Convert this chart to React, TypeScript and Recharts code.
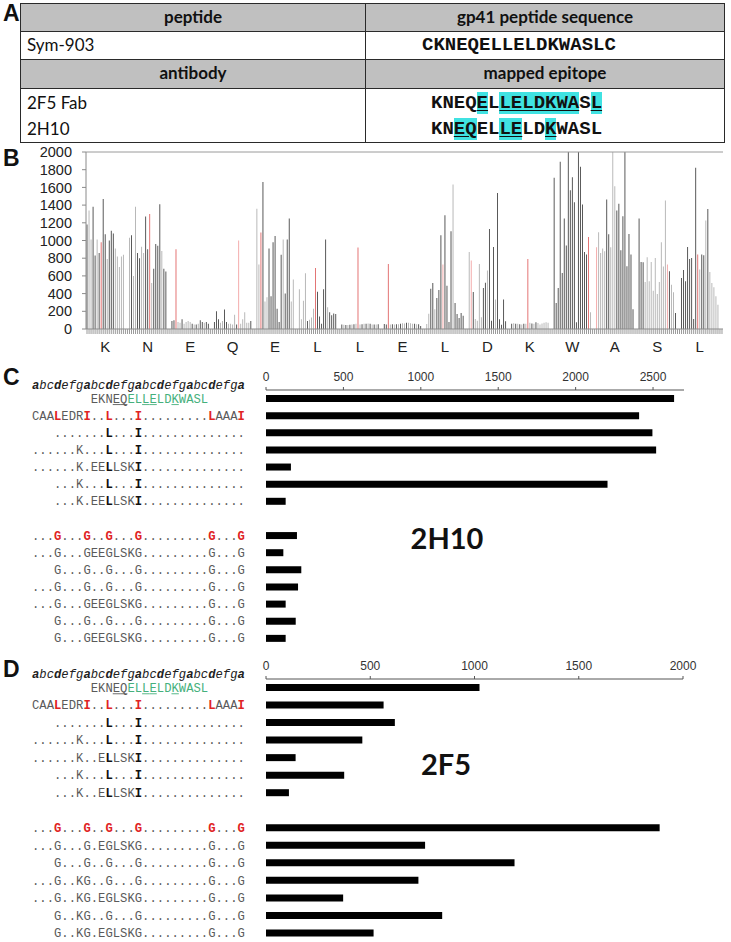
import React from "react";
import { BarChart, Bar, XAxis, YAxis, Cell, ReferenceLine } from "recharts";

// ---- panel B: substitution scan, one group of bars per residue ----
const residues = ["K", "N", "E", "Q", "E", "L", "L", "E", "L", "D", "K", "W", "A", "S", "L"];

const scanK1 = [1180, 1340, 1010, 1380, 830, 1010, 860, 980, 1470, 1070, 790, 1000, 1110, 1080, 910, 820, 700, 820, 840];
const scanN = [1030, 1060, 600, 1380, 860, 800, 930, 860, 1270, 900, 1300, 520, 680, 960, 940, 1410, 880, 680, 650];
const scanE1 = [90, 100, 900, 80, 70, 110, 60, 80, 90, 80, 60, 50, 50, 60, 100, 80, 70, 80, 60];
const scanQ = [80, 200, 110, 70, 90, 220, 80, 60, 60, 50, 160, 50, 1000, 60, 110, 190, 70, 70, 90];
const scanE2 = [1360, 730, 1090, 1660, 310, 360, 910, 370, 980, 1050, 230, 80, 840, 1010, 400, 1010, 1250, 310, 560];
const scanL1 = [450, 110, 320, 630, 90, 105, 130, 230, 690, 420, 140, 60, 450, 1010, 245, 190, 155, 175, 170];
const scanL2 = [50, 48, 45, 44, 48, 52, 55, 58, 920, 52, 55, 58, 60, 62, 60, 52, 50, 52, 55];
const scanE3 = [57, 50, 735, 50, 55, 50, 55, 55, 58, 65, 62, 70, 70, 65, 60, 58, 55, 55, 35];
const scanL3 = [57, 173, 456, 520, 222, 350, 441, 1060, 728, 1285, 490, 79, 1105, 1632, 294, 170, 124, 181, 151];
const scanD = [871, 773, 418, 113, 94, 735, 132, 464, 524, 660, 1131, 94, 927, 332, 1538, 109, 49, 332, 87];
const scanK2 = [60, 65, 60, 58, 55, 52, 60, 58, 792, 70, 62, 58, 75, 68, 50, 62, 70, 75, 72];
const scanW = [1708, 294, 464, 1889, 633, 1248, 943, 2100, 1568, 1715, 1433, 75, 2100, 1832, 1406, 871, 841, 1040, 188];
const scanA = [924, 1093, 860, 909, 878, 1463, 1071, 924, 2100, 1612, 1339, 1414, 890, 1274, 2100, 709, 1074, 841, 222];
const scanS = [1248, 758, 754, 532, 811, 539, 758, 433, 803, 396, 532, 980, 705, 1451, 728, 652, 501, 415, 181];
const scanL4 = [577, 667, 539, 927, 792, 803, 113, 1821, 841, 671, 841, 833, 1225, 1357, 645, 520, 471, 369, 275];

// d = dark, l = light, r = red (wild type), p = pale red
const shadeK1 = "dllddldrddldddlllll";
const shadeN = "ldllddlldd" + "rlddddldd";
const shadeE1 = "ddrlldllll" + "dldlddldd";
const shadeQ = "dddllddlllldpllllld";
const shadeE2 = "llrdlldddddddldddll";
const shadeL1 = "lllldlllrdddddldddd";
const shadeL2 = "dldldldlrldldldldld";
const shadeE3 = "ddrldldldlldllldldd";
const shadeL3 = "llddldddpddddlddddd";
const shadeD = "lpdllllddldddlddddd";
const shadeK2 = "dldldldlrldldllllll";
const shadeW = "dddddddddddddddddrl";
const shadeA = "pllllddlllddddddddd";
const shadeS = "dddlllllllllllpdlld";
const shadeL4 = "ddddddddrlddldlllll";

const scanGroups = [scanK1, scanN, scanE1, scanQ, scanE2, scanL1, scanL2, scanE3, scanL3, scanD, scanK2, scanW, scanA, scanS, scanL4];
const shadeGroups = [shadeK1, shadeN, shadeE1, shadeQ, shadeE2, shadeL1, shadeL2, shadeE3, shadeL3, shadeD, shadeK2, shadeW, shadeA, shadeS, shadeL4];

const SHADES: Record<string, string> = { d: "#454545", l: "#b0b0b0", r: "#e06464", p: "#f2a2a2" };
const SLOTS = 21;

const scanData: { slot: number; value: number; shade: string; label: string }[] = [];
scanGroups.forEach((vals, g) => {
  for (let i = 0; i < SLOTS; i++) {
    scanData.push({
      slot: g * SLOTS + i,
      value: i < vals.length ? vals[i] : 0,
      shade: i < vals.length ? shadeGroups[g][i] : "l",
      label: i === 9 ? residues[g] : "",
    });
  }
});

// ---- panels C / D: heptad alignment + signal ----
const heptad = "abcdefgabcdefgabcdefgabcdefga";
const rowIds = ["r0", "r1", "r2", "r3", "r4", "r5", "r6", "gap", "r8", "r9", "r10", "r11", "r12", "r13", "r14"];

const seq2H10 = [
  "        EKNEQELLELDKWASL",
  "CAALEDRI..L...I.........LAAAI",
  "   .......L...I..............",
  "......K...L...I..............",
  "......K.EELLSKI..............",
  "   ...K...L...I..............",
  "   ...K.EELLSKI..............",
  "",
  "...G...G..G...G.........G...G",
  "...G...GEEGLSKG.........G...G",
  "   G...G..G...G.........G...G",
  "...G...G..G...G.........G...G",
  "...G...GEEGLSKG.........G...G",
  "   G...G..G...G.........G...G",
  "   G...GEEGLSKG.........G...G",
];
const seq2F5 = [
  "        EKNEQELLELDKWASL",
  "CAALEDRI..L...I.........LAAAI",
  "   .......L...I..............",
  "......K...L...I..............",
  "......K..ELLSKI..............",
  "   ...K...L...I..............",
  "   ...K..ELLSKI..............",
  "",
  "...G...G..G...G.........G...G",
  "...G...G.EGLSKG.........G...G",
  "   G...G..G...G.........G...G",
  "...G..KG..G...G.........G...G",
  "...G..KG.EGLSKG.........G...G",
  "   G..KG..G...G.........G...G",
  "   G..KG.EGLSKG.........G...G",
];
const signal2H10 = [2636, 2410, 2496, 2520, 161, 2206, 127, null, 200, 112, 228, 207, 127, 192, 127];
const signal2F5 = [1024, 564, 618, 462, 142, 375, 110, null, 1888, 763, 1192, 731, 370, 845, 516];

const data2H10 = rowIds.map((row, i) => ({ row, signal: signal2H10[i] }));
const data2F5 = rowIds.map((row, i) => ({ row, signal: signal2F5[i] }));

const rowKinds = ["peptide", "red", "core", "core", "core", "core", "core", "gap", "red", "plain", "plain", "plain", "plain", "plain", "plain"];
const RED_COLS = [3, 7, 10, 14, 24, 28];
const CORE_COLS = [10, 14];
const UNDER_COLS = [11, 12, 15, 16, 19];

const MONO = "'Liberation Mono', 'Courier New', monospace";
const ARIAL = "'Liberation Sans', Arial, sans-serif";
const CW = 7.34;
const X0 = 32;
const GREY = "#5a5a5a";
const GREEN = "#45b07c";
const RED = "#e02424";

const SeqText = ({ y, text, kind }: { y: number; text: string; kind: string }) => (
  <g>
    {text.split("").map((ch, c) => {
      if (ch === " ") return null;
      let fill = GREY;
      let weight: any = "normal";
      if (kind === "red" && ch !== "." && RED_COLS.includes(c)) {
        fill = RED;
        weight = "bold";
      }
      if (kind === "core" && CORE_COLS.includes(c)) {
        fill = "#111";
        weight = "bold";
      }
      if (kind === "peptide" && c >= 13) fill = GREEN;
      const cx = X0 + (c + 0.5) * CW;
      return (
        <g key={c}>
          <text x={cx} y={y + 4} textAnchor="middle" fontFamily={MONO} fontSize={12.2} fontWeight={weight} fill={fill}>
            {ch}
          </text>
          {kind === "peptide" && UNDER_COLS.includes(c) && (
            <line x1={cx - CW / 2} x2={cx + CW / 2} y1={y + 6} y2={y + 6} stroke={fill} strokeWidth={0.9} />
          )}
        </g>
      );
    })}
  </g>
);

const makeSeqTick = (rows: string[]) => (props: any) => {
  const { y, payload } = props;
  const idx = rowIds.indexOf(payload.value);
  const kind = rowKinds[idx];
  if (kind === "gap") return <g />;
  return (
    <g>
      {idx === 0 && (
        <g>
          {heptad.split("").map((ch, c) => (
            <text
              key={c}
              x={X0 + (c + 0.5) * CW}
              y={y - 10}
              textAnchor="middle"
              fontFamily={MONO}
              fontSize={12.2}
              fontStyle="italic"
              fontWeight={c % 7 === 0 || c % 7 === 3 ? "bold" : "normal"}
              fill="#222"
            >
              {ch}
            </text>
          ))}
        </g>
      )}
      <SeqText y={y} text={rows[idx]} kind={kind} />
    </g>
  );
};

const ResidueTick = (props: any) => {
  const { x, y, payload } = props;
  const label = scanData[payload.value]?.label;
  if (!label) return <g />;
  return (
    <text x={x} y={y + 16} textAnchor="middle" fontFamily={ARIAL} fontSize={15} fill="#222">
      {label}
    </text>
  );
};

const panelLetter = (letter: string, left: number, top: number) => (
  <div
    style={{
      position: "absolute",
      left,
      top,
      fontFamily: ARIAL,
      fontWeight: "bold",
      fontSize: 23,
      lineHeight: 1,
      color: "#111",
    }}
  >
    {letter}
  </div>
);

const hl = (s: string) => (
  <span style={{ background: "#40e2e2", textDecoration: "underline", textUnderlineOffset: 2 }}>{s}</span>
);

const cellText: React.CSSProperties = {
  position: "absolute",
  fontFamily: "Lato, 'Open Sans', sans-serif",
  fontSize: 17,
  lineHeight: "20px",
  color: "#111",
  whiteSpace: "nowrap",
};
const seqText: React.CSSProperties = {
  position: "absolute",
  fontFamily: MONO,
  fontWeight: "bold",
  fontSize: 19,
  lineHeight: "22px",
  color: "#111",
  whiteSpace: "pre",
};
const LINE = "1.5px solid #2a2a2a";

export default function App() {
  return (
    <div style={{ position: "absolute", left: 0, top: 0, width: 731, height: 942, background: "#fff", overflow: "hidden" }}>
      {/* ---- A: table ---- */}
      {panelLetter("A", 3, 2)}
      <div style={{ position: "absolute", left: 20, top: 3, width: 705, height: 140, border: LINE, boxSizing: "border-box" }}>
        <div style={{ position: "absolute", left: 0, top: 0, right: 0, height: 27, background: "#c0c0c0", borderBottom: LINE }} />
        <div style={{ position: "absolute", left: 0, top: 55, right: 0, height: 28, background: "#c0c0c0", borderTop: LINE, borderBottom: LINE }} />
        <div style={{ position: "absolute", left: 344, top: 0, bottom: 0, borderLeft: LINE }} />
        <div style={{ ...cellText, left: 0, width: 344, top: 3, textAlign: "center", fontWeight: "bold" }}>peptide</div>
        <div style={{ ...cellText, left: 345, width: 358, top: 3, textAlign: "center", fontWeight: "bold" }}>gp41 peptide sequence</div>
        <div style={{ ...cellText, left: 6, top: 31 }}>Sym-903</div>
        <div style={{ ...seqText, left: 401, top: 30 }}>CKNEQELLELDKWASLC</div>
        <div style={{ ...cellText, left: 0, width: 344, top: 59, textAlign: "center", fontWeight: "bold" }}>antibody</div>
        <div style={{ ...cellText, left: 345, width: 358, top: 59, textAlign: "center", fontWeight: "bold" }}>mapped epitope</div>
        <div style={{ ...cellText, left: 6, top: 89 }}>2F5 Fab</div>
        <div style={{ ...seqText, left: 410, top: 88 }}>
          KNEQ{hl("E")}L{hl("LELDKWA")}S{hl("L")}
        </div>
        <div style={{ ...cellText, left: 6, top: 115 }}>2H10</div>
        <div style={{ ...seqText, left: 410, top: 114 }}>
          KN{hl("EQ")}EL{hl("LE")}LD{hl("K")}WASL
        </div>
      </div>

      {/* ---- B: scan bars ---- */}
      {panelLetter("B", 3, 147)}
      <div style={{ position: "absolute", left: 0, top: 140 }}>
        <BarChart width={731} height={220} data={scanData} margin={{ top: 12, right: 8, bottom: 1, left: 0 }} barCategoryGap="28%">
          <XAxis
            dataKey="slot"
            type="category"
            interval={0}
            height={30}
            tick={ResidueTick}
            tickSize={5}
            tickLine={{ stroke: "#9a9a9a" }}
            axisLine={{ stroke: "#8a8a8a" }}
          />
          <YAxis
            yAxisId="l"
            domain={[0, 2000]}
            allowDataOverflow
            interval={0}
            ticks={[0, 200, 400, 600, 800, 1000, 1200, 1400, 1600, 1800, 2000]}
            width={86}
            tickSize={4}
            tickMargin={10}
            tick={{ fontFamily: ARIAL, fontSize: 14.5, fill: "#222" }}
            axisLine={{ stroke: "#8a8a8a" }}
            tickLine={{ stroke: "#8a8a8a" }}
          />
          <YAxis yAxisId="r" orientation="right" domain={[0, 2000]} width={0} tick={false} tickLine={false} axisLine={{ stroke: "#9a9a9a" }} />
          <ReferenceLine yAxisId="l" y={2000} stroke="#9a9a9a" />
          <Bar yAxisId="l" dataKey="value" isAnimationActive={false}>
            {scanData.map((d) => (
              <Cell key={d.slot} fill={SHADES[d.shade]} />
            ))}
          </Bar>
        </BarChart>
      </div>

      {/* ---- C: 2H10 ---- */}
      {panelLetter("C", 3, 366)}
      <div style={{ position: "absolute", left: 0, top: 360 }}>
        <BarChart width={731} height={290} data={data2H10} layout="vertical" margin={{ top: 0, right: 47, bottom: 3, left: 0 }}>
          <XAxis
            type="number"
            orientation="top"
            domain={[0, 2700]}
            ticks={[0, 500, 1000, 1500, 2000, 2500]}
            height={30}
            tickSize={3}
            tickMargin={6}
            tick={{ fontFamily: ARIAL, fontSize: 12, fill: "#333" }}
            axisLine={{ stroke: "#555" }}
            tickLine={{ stroke: "#555" }}
          />
          <YAxis type="category" dataKey="row" width={266} interval={0} axisLine={false} tickLine={false} tick={makeSeqTick(seq2H10)} />
          <Bar dataKey="signal" fill="#000" barSize={7} isAnimationActive={false} />
        </BarChart>
      </div>
      <div
        style={{
          position: "absolute",
          left: 447,
          top: 537,
          transform: "translate(-50%, -50%)",
          fontFamily: "Lato, 'Open Sans', sans-serif",
          fontWeight: "bold",
          fontSize: 29,
          lineHeight: 1,
          color: "#111",
        }}
      >
        2H10
      </div>

      {/* ---- D: 2F5 ---- */}
      {panelLetter("D", 3, 658)}
      <div style={{ position: "absolute", left: 0, top: 649 }}>
        <BarChart width={731} height={293} data={data2F5} layout="vertical" margin={{ top: 0, right: 48, bottom: 0, left: 0 }}>
          <XAxis
            type="number"
            orientation="top"
            domain={[0, 2000]}
            ticks={[0, 500, 1000, 1500, 2000]}
            height={30}
            tickSize={3}
            tickMargin={6}
            tick={{ fontFamily: ARIAL, fontSize: 12, fill: "#333" }}
            axisLine={{ stroke: "#555" }}
            tickLine={{ stroke: "#555" }}
          />
          <YAxis type="category" dataKey="row" width={266} interval={0} axisLine={false} tickLine={false} tick={makeSeqTick(seq2F5)} />
          <Bar dataKey="signal" fill="#000" barSize={7} isAnimationActive={false} />
        </BarChart>
      </div>
      <div
        style={{
          position: "absolute",
          left: 446,
          top: 763,
          transform: "translate(-50%, -50%)",
          fontFamily: "Lato, 'Open Sans', sans-serif",
          fontWeight: "bold",
          fontSize: 29,
          lineHeight: 1,
          color: "#111",
        }}
      >
        2F5
      </div>
    </div>
  );
}
